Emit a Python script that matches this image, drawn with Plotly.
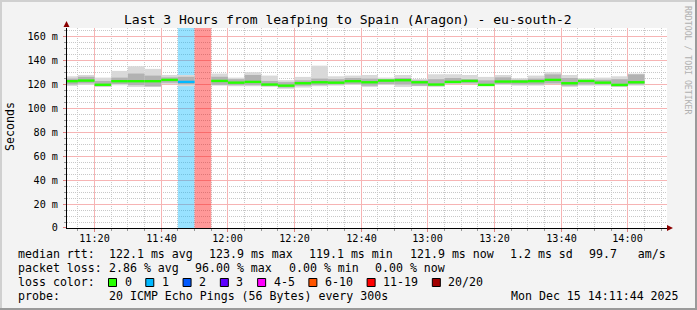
import math
import plotly.graph_objects as go

# ---------------- data ----------------
bin_start = ["11:10", "11:15", "11:20", "11:25", "11:30", "11:35", "11:40", "11:45", "11:50", "11:55",
             "12:00", "12:05", "12:10", "12:15", "12:20", "12:25", "12:30", "12:35", "12:40", "12:45",
             "12:50", "12:55", "13:00", "13:05", "13:10", "13:15", "13:20", "13:25", "13:30", "13:35",
             "13:40", "13:45", "13:50", "13:55", "14:00"]
median_ms = [122.8, 123.3, 119.8, 122.8, 122.8, 122.8, 123.9, 122.2, None, 123.0,
             121.6, 122.2, 120.0, 119.1, 121.1, 121.9, 121.6, 122.8, 121.9, 123.3,
             123.6, 121.9, 120.0, 122.2, 123.0, 119.7, 122.5, 122.5, 122.8, 123.9,
             121.1, 123.0, 121.6, 119.7, 121.9]
smoke_min = [118.9, 119.7, 118.0, 119.4, 118.0, 118.0, 120.3, 118.6, None, 119.1,
             118.6, 118.6, 118.0, 116.4, 117.5, 118.6, 119.1, 119.7, 118.0, 119.7,
             118.0, 118.6, 118.0, 120.3, 120.3, 118.6, 119.7, 119.1, 119.1, 120.3,
             118.0, 119.1, 119.1, 118.0, 119.1]
smoke_max = [126.9, 128.0, 125.8, 131.4, 135.3, 133.1, 128.0, 128.0, None, 129.2,
             125.8, 130.3, 127.5, 123.6, 126.4, 135.8, 126.9, 127.5, 128.0, 125.8,
             128.0, 124.7, 128.6, 128.6, 128.0, 126.4, 128.0, 125.3, 127.5, 130.3,
             128.0, 125.3, 125.8, 126.9, 129.2]
core_lo = [120.0, 121.0, 118.6, 120.5, 119.5, 118.5, 121.5, 120.0, None, 119.7,
           119.5, 119.5, 119.0, 117.5, 119.0, 119.5, 120.0, 120.5, 119.0, 120.5,
           120.0, 119.0, 119.0, 121.0, 121.0, 119.0, 120.5, 120.0, 120.0, 121.0,
           119.0, 120.0, 120.0, 118.5, 120.0]
core_hi = [125.0, 126.5, 123.0, 125.8, 129.2, 127.5, 126.0, 126.5, None, 126.5,
           124.5, 128.0, 123.0, 122.0, 123.5, 125.0, 124.5, 125.5, 125.0, 124.5,
           125.5, 123.5, 124.5, 125.5, 124.5, 123.5, 126.0, 124.0, 125.0, 128.5,
           125.5, 124.0, 124.0, 124.5, 128.5]
loss_pct = [0, 0, 0, 0, 0, 0, 0, 5, 96, 0,
            0, 0, 0, 0, 0, 0, 0, 0, 0, 0,
            0, 0, 0, 0, 0, 0, 0, 0, 0, 0,
            0, 0, 0, 0, 0]

x_tick_labels = ["11:20", "11:40", "12:00", "12:20", "12:40", "13:00", "13:20", "13:40", "14:00"]
y_tick_values = [0, 20, 40, 60, 80, 100, 120, 140, 160]
y_tick_labels = ["0", "20 m", "40 m", "60 m", "80 m", "100 m", "120 m", "140 m", "160 m"]

loss_labels = ["0", "1", "2", "3", "4-5", "6-10", "11-19", "20/20"]
loss_colors = ["#26ff00", "#00b8ff", "#0059ff", "#5e00ff", "#ff00fe", "#ff5500", "#ff0000", "#a10000"]

title_text = "Last 3 Hours from leafping to Spain (Aragon) - eu-south-2"
legend_heads = ["median rtt:", "packet loss:", "loss color:", "probe:"]
rtt_items = ["122.1 ms avg", "123.9 ms max", "119.1 ms min", "121.9 ms now", "1.2 ms sd", "99.7   am/s"]
loss_items = ["2.86 % avg", "96.00 % max", "0.00 % min", "0.00 % now"]
probe_items = ["20 ICMP Echo Pings (56 Bytes) every 300s"]
date_text = "Mon Dec 15 14:11:44 2025"
x_start_time = "11:11:44"
x_end_time = "14:11:44"

# ---------------- helpers ----------------
MONO = "DejaVu Sans Mono"
W, H = 697, 310
L, R, T, B = 67, 30, 28, 82
PW, PH = W - L - R, H - T - B
Y_TOP = 167.3
FS_LEG = 11.6
CW = 0.602 * FS_LEG          # monospace advance
GLUE = 16.3                  # rrdtool legend glue
COL0 = 107.3                 # first legend value column


def tmin(s):
    parts = [float(p) for p in s.split(":")]
    return parts[0] * 60 + parts[1] + (parts[2] / 60 if len(parts) > 2 else 0)


def X(px):
    return (px - L) / PW


def Y(py):
    return (T + PH - py) / PH


def loss_idx(p):
    n = round(p / 100 * 20)
    if n <= 3:
        return n
    if n <= 5:
        return 4
    if n <= 10:
        return 5
    if n <= 19:
        return 6
    return 7


x0r, x1r = tmin(x_start_time), tmin(x_end_time)


def crisp_x(v):
    px = L + (v - x0r) * PW / (x1r - x0r)
    return x0r + (math.floor(px) + 0.5 - L) * (x1r - x0r) / PW


def crisp_y(v):
    py = T + PH - v * PH / Y_TOP
    return (T + PH - (math.ceil(py) - 0.5)) * Y_TOP / PH


STEP = 5
centers = [tmin(t) + STEP / 2 for t in bin_start]

fig = go.Figure()

# loss background bars
lx, lc = [], []
for c, p in zip(centers, loss_pct):
    if p > 0:
        lx.append(c)
        lc.append(loss_colors[loss_idx(p)])
fig.add_trace(go.Bar(x=lx, y=[Y_TOP] * len(lx), base=0, width=STEP,
                     marker=dict(color=lc, line=dict(width=0)), opacity=0.4))

# smoke
sx, sb, sh = [], [], []
cx, cb, ch = [], [], []
mx, mb, mc = [], [], []
for i, c in enumerate(centers):
    if smoke_min[i] is not None:
        sx.append(c); sb.append(smoke_min[i]); sh.append(smoke_max[i] - smoke_min[i])
        cx.append(c); cb.append(core_lo[i]); ch.append(core_hi[i] - core_lo[i])
    if median_ms[i] is not None:
        mx.append(c); mb.append(median_ms[i] - 1.0); mc.append(loss_colors[loss_idx(loss_pct[i])])

fig.add_trace(go.Bar(x=sx, y=sh, base=sb, width=STEP, marker=dict(color="#d9d9d9", line=dict(width=0))))
fig.add_trace(go.Bar(x=cx, y=ch, base=cb, width=STEP, marker=dict(color="#b2b2b2", line=dict(width=0))))
fig.add_trace(go.Bar(x=mx, y=[2.0] * len(mx), base=mb, width=STEP, marker=dict(color=mc, line=dict(width=0))))

grid_major = "#f6b4b4"
grid_minor = "#c8c8c8"
dash = "1px,1px"

x_major_raw = [tmin(t) for t in x_tick_labels]
x_major = [crisp_x(v) for v in x_major_raw]
x_minor = [crisp_x(m) for m in range(int(x0r // 5 * 5), int(x1r) + 1, 5)
           if x0r <= m <= x1r and m not in x_major_raw]
y_major = [crisp_y(v) for v in y_tick_values]
y_minor = [crisp_y(v) for v in range(0, int(Y_TOP) + 1, 5) if v not in y_tick_values]

fig.update_layout(
    width=W, height=H, autosize=False,
    margin=dict(l=L, r=R, t=T, b=B),
    paper_bgcolor="#f3f3f3", plot_bgcolor="#ffffff",
    barmode="overlay", showlegend=False, hovermode=False,
    font=dict(family=MONO, color="#000000"),
    xaxis=dict(
        range=[x0r, x1r],
        tickmode="array", tickvals=x_major, ticktext=x_tick_labels,
        tickfont=dict(size=10.15, family=MONO, color="#000"),
        showgrid=True, gridcolor=grid_major, griddash="solid", gridwidth=1,
        ticks="outside", ticklen=3, tickcolor="#e08080", ticklabelstandoff=-2,
        showline=True, linecolor="#000", linewidth=1, zeroline=False,
        minor=dict(tickmode="array", tickvals=x_minor, showgrid=True, gridcolor=grid_minor, griddash=dash,
                   ticks="outside", ticklen=2, tickcolor="#999"),
        fixedrange=True,
    ),
    yaxis=dict(
        range=[0, Y_TOP],
        tickmode="array", tickvals=y_major, ticktext=y_tick_labels,
        tickfont=dict(size=10.15, family=MONO, color="#000"),
        showgrid=True, gridcolor=grid_major, griddash="solid", gridwidth=1,
        ticks="outside", ticklen=3, tickcolor="#e08080", ticklabelstandoff=3,
        showline=True, linecolor="#000", linewidth=1, zeroline=False,
        minor=dict(tickmode="array", tickvals=y_minor, showgrid=True, gridcolor=grid_minor, griddash=dash,
                   ticks="outside", ticklen=2, tickcolor="#999"),
        fixedrange=True,
    ),
)

ann = []


def add_text(px, py, text, size, xanchor="left", color="#000", angle=0):
    ann.append(dict(xref="paper", yref="paper", x=X(px), y=Y(py), text=text.replace(" ", "\u00a0"),
                    showarrow=False, xanchor=xanchor, yanchor="middle", textangle=angle,
                    font=dict(family=MONO, size=size, color=color)))


add_text(348, 19, title_text, 13.05, xanchor="center")
add_text(10, 127, "Seconds", 11.6, xanchor="center", angle=-90)
add_text(688, 60, "RRDTOOL / TOBI OETIKER", 8.2, xanchor="center", color="#b0b0b0", angle=90)

line_y = [254.3, 268.3, 282.3, 296.3]
for head, ly in zip(legend_heads, line_y):
    add_text(16, ly, head, FS_LEG)


def place_items(items, ly):
    x = COL0
    for it in items:
        add_text(x, ly, it, FS_LEG)
        x += len(it) * CW + GLUE


place_items(rtt_items, line_y[0])
place_items(loss_items, line_y[1])
place_items(probe_items, line_y[3])
add_text(680.5, line_y[3], date_text, FS_LEG, xanchor="right")

shapes = []
bx = 108.5
for lab, col in zip(loss_labels, loss_colors):
    shapes.append(dict(type="rect", xref="paper", yref="paper", x0=X(bx), x1=X(bx + 8),
                       y0=Y(286.5), y1=Y(278.5), fillcolor=col, line=dict(color="#000", width=1)))
    add_text(bx + 14, line_y[2], lab, FS_LEG)
    bx += 14 + len(lab) * CW + GLUE

# axis arrows
arrow_col = "#8b0000"
shapes.append(dict(type="path", xref="paper", yref="paper",
                   path=f"M {X(667)} {Y(225)} L {X(673)} {Y(228)} L {X(667)} {Y(231)} Z",
                   fillcolor=arrow_col, line=dict(width=0)))
shapes.append(dict(type="path", xref="paper", yref="paper",
                   path=f"M {X(63.5)} {Y(27)} L {X(66.5)} {Y(21)} L {X(69.5)} {Y(27)} Z",
                   fillcolor=arrow_col, line=dict(width=0)))
# frame (3D border)
shapes.append(dict(type="rect", xref="paper", yref="paper", x0=X(0), x1=X(697), y0=Y(310), y1=Y(308),
                   fillcolor="#9a9a9a", line=dict(width=0)))
shapes.append(dict(type="rect", xref="paper", yref="paper", x0=X(695), x1=X(697), y0=Y(310), y1=Y(0),
                   fillcolor="#9a9a9a", line=dict(width=0)))
shapes.append(dict(type="rect", xref="paper", yref="paper", x0=X(0), x1=X(2), y0=Y(308), y1=Y(0),
                   fillcolor="#d0d0d0", line=dict(width=0)))
shapes.append(dict(type="rect", xref="paper", yref="paper", x0=X(0), x1=X(695), y0=Y(2), y1=Y(0),
                   fillcolor="#d0d0d0", line=dict(width=0)))

fig.update_layout(annotations=ann, shapes=shapes)
fig.write_html("out.html")
